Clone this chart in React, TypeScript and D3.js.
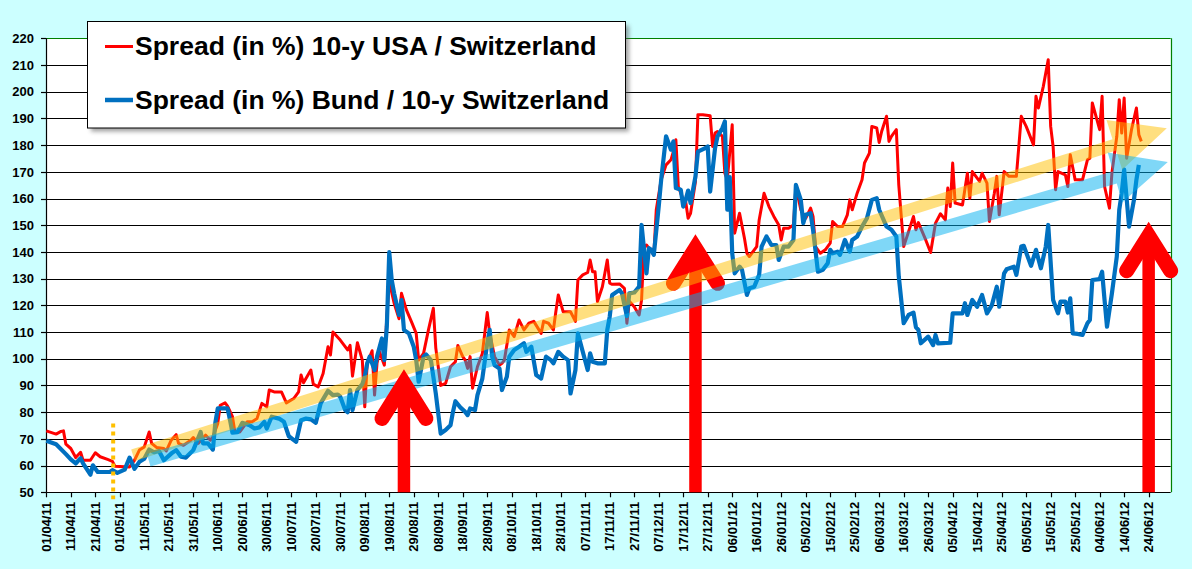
import * as d3 from "d3"

const WIDTH = 1192
const HEIGHT = 569
const FONT = "'Liberation Sans', Arial, sans-serif"

// x axis: one label every 10 days
const tickLabels = [
  "01/04/11", "11/04/11", "21/04/11", "01/05/11", "11/05/11", "21/05/11", "31/05/11", "10/06/11",
  "20/06/11", "30/06/11", "10/07/11", "20/07/11", "30/07/11", "09/08/11", "19/08/11", "29/08/11",
  "08/09/11", "18/09/11", "28/09/11", "08/10/11", "18/10/11", "28/10/11", "07/11/11", "17/11/11",
  "27/11/11", "07/12/11", "17/12/11", "27/12/11", "06/01/12", "16/01/12", "26/01/12", "05/02/12",
  "15/02/12", "25/02/12", "06/03/12", "16/03/12", "26/03/12", "05/04/12", "15/04/12", "25/04/12",
  "05/05/12", "15/05/12", "25/05/12", "04/06/12", "14/06/12", "24/06/12",
]
const yTicks = [50, 60, 70, 80, 90, 100, 110, 120, 130, 140, 150, 160, 170, 180, 190, 200, 210, 220]

// series: day offsets from 01/04/11 and spread values
const usaDay = [
  0, 4, 6, 7, 8, 10, 12, 14, 15, 18, 20, 22, 25, 27, 28, 34, 36, 38, 40, 42, 43, 45, 48, 49, 51, 53, 54, 56, 59, 60,
  62, 65, 67, 68, 70, 71, 73, 74, 76, 77, 79, 82, 84, 86, 88, 90, 91, 93, 96, 98, 101, 103, 104, 105, 108, 109, 111,
  113, 115, 116, 117, 120, 123, 124, 125, 127, 129, 130, 131, 133, 134, 135, 136, 138, 139, 140, 142, 144, 145, 147,
  149, 151, 152, 154, 156, 158, 159, 161, 163, 165, 167, 168, 170, 171, 172, 173, 174, 176, 178, 180, 181, 183, 185,
  186, 187, 189, 191, 193, 195, 197, 199, 202, 203, 205, 207, 208, 209, 211, 214, 216, 217, 219, 221, 222, 223, 224,
  225, 227, 229, 230, 231, 234, 236, 237, 238, 240, 242, 243, 244, 245, 247, 248, 249, 251, 253, 255, 256, 257, 258,
  259, 260, 261, 262, 263, 265, 266, 268, 271, 272, 273, 274, 276, 277, 278, 280, 281, 282, 283, 285, 286, 287, 288,
  290, 291, 293, 295, 297, 299, 300, 301, 303, 305, 306, 308, 310, 312, 313, 314, 316, 318, 320, 321, 323, 325, 327,
  328, 329, 331, 333, 334, 336, 337, 339, 340, 341, 343, 344, 345, 347, 348, 350, 352, 354, 355, 356, 359, 361, 363,
  365, 367, 368, 369, 370, 371, 374, 376, 377, 378, 381, 382, 384, 385, 387, 388, 389, 391, 393, 396, 398, 400, 403,
  404, 405, 407, 409, 410, 411, 412, 413, 416, 417, 418, 420, 423, 425, 426, 427, 430, 431, 432, 434, 435, 437, 438,
  439, 440, 441, 443, 445, 446, 447,
]
const usaSpread = [
  73, 71.8, 72.8, 73, 68, 66.4, 63, 65, 62, 62, 64.8, 63.3, 62.3, 61.6, 59.8, 59.5, 62, 65.8, 67, 72.6, 68.3, 66.8,
  66.4, 65.5, 69.5, 71.6, 68.3, 67.6, 69.5, 70.5, 68.3, 71.4, 69.5, 70.8, 75.8, 82.6, 83.5, 82.3, 78.3, 72.6, 72.6,
  76.4, 76.4, 77.6, 83.3, 82, 88.3, 87.6, 87.6, 83.5, 85.1, 87.6, 93.9, 91, 95.8, 90.5, 89.5, 94.5, 104.5, 101.4, 110,
  107, 103.3, 105, 93.5, 106, 99.5, 82, 98.3, 103, 86.4, 98.3, 102.6, 97.6, 115.8, 128.9, 120.8, 115, 124.5, 118.3,
  114, 109.5, 99.5, 102, 110.8, 118.9, 104, 90, 90.8, 97, 98.9, 105, 100.8, 99.5, 96.4, 100.8, 89, 97, 102, 117.3,
  109.5, 100.8, 97.6, 98.3, 99.5, 110.8, 108.3, 114.5, 110.8, 113.3, 114, 109.5, 114, 113.3, 110.8, 117.6, 123.9,
  117.6, 117.6, 114, 129.5, 131.4, 132.3, 137, 132.6, 132.6, 121.4, 127, 137, 128.3, 127.9, 128, 126.4, 113.3, 121.5,
  119.5, 116.4, 122, 142, 142.6, 140.1, 138.9, 155.8, 167, 172.6, 174.5, 177.6, 182, 164.5, 162, 159.5, 158.9, 152.6,
  154.5, 166.4, 191.4, 191.4, 191, 179.5, 184.5, 185.1, 183.3, 169.5, 167, 187.6, 147, 150.8, 154.5, 145.1, 139.5,
  138.3, 139.5, 142, 152, 162, 157, 153.3, 150.1, 144.5, 148.9, 148.9, 150.1, 164.5, 155.8, 152.6, 156.4, 153.3, 142,
  139.5, 140.8, 143.3, 151.4, 149.5, 149.5, 153.9, 159.5, 155.8, 162, 167, 173.3, 177, 187, 186.4, 181, 185.1, 190.8,
  181.4, 183.3, 185.8, 165, 142, 147.6, 153.3, 148.3, 151, 144.5, 139.8, 150.8, 154.3, 152, 163.9, 157, 173.3, 158.3,
  157.6, 169.5, 160.1, 170.1, 166.4, 169.5, 165.8, 151.4, 162, 168.3, 153.9, 170.1, 168.3, 168.3, 190.8, 187, 180.1,
  198.3, 193.9, 202, 212, 187, 179.5, 163.3, 170.1, 168.9, 164.5, 176.4, 167, 167, 174.5, 175.1, 195.8, 185.8, 198.3,
  164.5, 156.4, 169.5, 183.3, 197, 184.5, 197.6, 175.1, 185.8, 193.9, 183.9, 181.4,
]

const bundDay = [
  0, 4, 8, 10, 12, 14, 15, 18, 19, 21, 26, 27, 29, 32, 34, 36, 38, 40, 42, 44, 46, 48, 51, 53, 55, 57, 60, 63, 64, 66,
  68, 69, 70, 74, 75, 76, 78, 80, 83, 85, 87, 89, 90, 92, 95, 97, 99, 102, 104, 106, 108, 110, 112, 115, 117, 119, 120,
  122, 123, 124, 125, 127, 129, 130, 131, 132, 134, 135, 137, 138, 139, 140, 141, 142, 144, 145, 146, 148, 150, 151,
  152, 154, 155, 157, 159, 160, 161, 163, 165, 166, 167, 169, 171, 172, 173, 175, 176, 178, 180, 181, 182, 183, 185,
  186, 188, 189, 191, 193, 195, 196, 198, 200, 202, 204, 206, 207, 209, 211, 213, 214, 216, 217, 219, 221, 222, 223,
  225, 228, 229, 230, 231, 234, 235, 237, 238, 240, 242, 243, 245, 246, 247, 248, 250, 251, 253, 255, 256, 257, 259,
  260, 261, 262, 263, 265, 266, 269, 270, 271, 273, 274, 276, 277, 278, 279, 280, 281, 283, 284, 286, 287, 289, 291,
  292, 294, 296, 298, 299, 301, 303, 305, 306, 308, 309, 310, 312, 313, 315, 317, 319, 320, 321, 323, 324, 326, 328,
  329, 331, 333, 335, 337, 339, 340, 343, 345, 347, 348, 350, 352, 354, 355, 356, 357, 360, 362, 363, 364, 369, 370,
  374, 375, 376, 378, 380, 382, 384, 386, 388, 389, 391, 392, 395, 396, 398, 399, 402, 404, 406, 408, 409, 411, 413,
  414, 416, 417, 418, 419, 421, 423, 425, 426, 427, 430, 431, 432, 433, 435, 437, 438, 439, 440, 442, 444, 445, 446,
]
const bundSpread = [
  69.3, 68, 64.3, 62.3, 60.8, 62.8, 60.8, 56.6, 60.1, 57.6, 57.6, 58.3, 57.3, 58.5, 63, 58.8, 61.4, 62.6, 66, 65,
  65.5, 62, 64.5, 65.8, 63.3, 63, 65.8, 72.6, 68.3, 68.3, 66, 76, 81.4, 81.4, 77, 72.3, 72.5, 76, 75.1, 73.9, 74.3,
  76.4, 73.9, 78.3, 77.6, 76.4, 71, 68.9, 77, 77.6, 77.3, 76, 83.3, 88, 86.4, 86.6, 85.8, 80.8, 80, 88.3, 80.8, 88.3,
  90.5, 93.3, 98.3, 100.8, 95.8, 100.8, 107.6, 99.5, 112, 139.9, 129.5, 124.5, 116.4, 122, 110.8, 109.5, 104.5, 99.5,
  91.4, 100.8, 101.6, 99.5, 87, 79.5, 72, 73.3, 75.1, 80.1, 84.1, 81.8, 80.1, 78.9, 81.4, 80.8, 86.4, 92.6, 105.8,
  110.8, 100.8, 97.6, 96.4, 88.3, 93.3, 100.8, 103.3, 104.5, 105.8, 102.6, 104.5, 93.9, 92.6, 100.8, 99.5, 98.3,
  102.6, 100.8, 99.5, 87, 95.8, 109.5, 102.6, 95.8, 102, 98.9, 98.3, 98.3, 110.8, 115.8, 123.9, 125.8, 124.5, 116,
  124.5, 124.8, 127, 150.1, 132, 141.4, 140.8, 138.9, 157, 167, 183.3, 178.3, 181.4, 163.9, 163.3, 157, 159.5, 163,
  158.3, 168.3, 177.6, 178.9, 179.5, 162.6, 178.9, 183.3, 186.4, 188.9, 155.8, 168, 139.5, 132, 134.5, 133.3, 123.9,
  126.4, 127, 131.4, 142, 145.8, 142.6, 142.6, 137, 142, 142, 144.5, 165.1, 159.5, 150.8, 153.9, 154.5, 148.3, 132.6,
  133.3, 135.8, 140.8, 139.5, 140.1, 138.9, 144.5, 140.1, 144.5, 145.8, 149.5, 152.6, 159.5, 160.1, 155.8, 149.5,
  148.3, 145.8, 130.8, 113.3, 116.4, 117.3, 111.8, 110.8, 105.8, 108.3, 105.1, 108.9, 105.8, 106, 117, 117, 120.8,
  116.4, 122, 119.5, 123.9, 117, 120.1, 127, 119.5, 132, 133.5, 134.5, 131.4, 142, 142.3, 134.8, 140.8, 133.9, 142,
  150.1, 122, 117, 121.4, 121.4, 117.3, 122.6, 109.5, 109.3, 108.9, 113.3, 114.5, 129.5, 129.8, 132.6, 122, 112,
  124.5, 138.3, 155.8, 162, 170.8, 149.5, 159.5, 167, 172.6,
]

// hand-drawn annotations, in data units (day offset, spread)
const trendUsa = { fromDay: 35.4, fromValue: 63.9, toDay: 457.4, toValue: 186.3 }
const trendBund = { fromDay: 41.8, fromValue: 62, toDay: 457.8, toValue: 173.7 }
const arrowDay = [146, 265, 450]
const arrowTip = [96, 146.6, 151.3]
const markerDay = 27.3
const markerTop = 75.8

const legendItems = [
  { label: "Spread (in %) 10-y USA / Switzerland", color: "#FF0000", width: 3 },
  { label: "Spread (in %) Bund / 10-y Switzerland", color: "#0070C0", width: 4.5 },
]

const parseTick = d3.utcParse("%d/%m/%y")
const start = Date.UTC(2011, 3, 1)
const dayToDate = (d: number) => new Date(start + d * 86400000)

const margin = { left: 46.3, right: 1170.7, top: 38.3, bottom: 492.3 }

const x = d3.scaleUtc().domain([dayToDate(0), dayToDate(459)]).range([margin.left, margin.right])
const y = d3.scaleLinear().domain([50, 220]).range([margin.bottom, margin.top])

const line = d3
  .line<[number, number]>()
  .x((p) => x(dayToDate(p[0])))
  .y((p) => y(p[1]))

function bandPath(t: { fromDay: number; fromValue: number; toDay: number; toValue: number }, half: number) {
  const x0 = x(dayToDate(t.fromDay))
  const y0 = y(t.fromValue)
  const x1 = x(dayToDate(t.toDay))
  const y1 = y(t.toValue)
  const len = Math.hypot(x1 - x0, y1 - y0)
  const ux = (x1 - x0) / len
  const uy = (y1 - y0) / len
  const nx = -uy
  const ny = ux
  const headLen = 55
  const headHalf = 26
  const bx = x1 - ux * headLen
  const by = y1 - uy * headLen
  const pts = [
    [x0 + nx * half, y0 + ny * half],
    [bx + nx * half, by + ny * half],
    [bx + nx * headHalf, by + ny * headHalf],
    [x1, y1],
    [bx - nx * headHalf, by - ny * headHalf],
    [bx - nx * half, by - ny * half],
    [x0 - nx * half, y0 - ny * half],
  ]
  return "M" + pts.map((p) => p[0].toFixed(1) + "," + p[1].toFixed(1)).join("L") + "Z"
}

function RedArrow({ day, tip }: { day: number; tip: number }) {
  const cx = x(dayToDate(day))
  const vy = y(tip) + 14
  return (
    <g>
      <line x1={cx} x2={cx} y1={vy} y2={margin.bottom} stroke="#FF0000" strokeWidth={12.5} />
      <path
        d={`M${cx - 22},${vy + 35}L${cx},${vy}L${cx + 22},${vy + 35}`}
        fill="none"
        stroke="#FF0000"
        strokeWidth={15}
        strokeLinecap="round"
        strokeLinejoin="miter"
      />
    </g>
  )
}

export default function App() {
  const usaPoints = usaDay.map((d, i) => [d, usaSpread[i]] as [number, number])
  const bundPoints = bundDay.map((d, i) => [d, bundSpread[i]] as [number, number])
  const ticks = tickLabels.map((t) => ({ label: t, x: x(parseTick(t) as Date) }))
  const crisp = (v: number) => Math.round(v) + 0.5

  return (
    <svg
      width={WIDTH}
      height={HEIGHT}
      style={{ position: "absolute", left: 0, top: 0, fontFamily: FONT }}
    >
      <defs>
        <filter id="shadow" x="-10%" y="-10%" width="130%" height="140%">
          <feGaussianBlur stdDeviation="2" />
        </filter>
      </defs>
      <rect width={WIDTH} height={HEIGHT} fill="#CCFFFF" />
      <rect
        x={margin.left}
        y={margin.top}
        width={margin.right - margin.left}
        height={margin.bottom - margin.top}
        fill="#FFFFFF"
      />

      {/* gridlines */}
      {yTicks
        .filter((v) => v > 50 && v < 220)
        .map((v) => (
          <line key={v} x1={margin.left} x2={margin.right} y1={crisp(y(v))} y2={crisp(y(v))} stroke="#000" strokeWidth={1.2} />
        ))}
      <line x1={margin.left} x2={margin.right} y1={crisp(y(220))} y2={crisp(y(220))} stroke="#008000" strokeWidth={1.2} />
      <line x1={crisp(margin.right)} x2={crisp(margin.right)} y1={margin.top} y2={margin.bottom} stroke="#008000" strokeWidth={1.2} />

      {/* y axis */}
      <line x1={crisp(margin.left)} x2={crisp(margin.left)} y1={margin.top} y2={margin.bottom + 0.5} stroke="#000" strokeWidth={1.2} />
      {yTicks.map((v) => (
        <g key={v}>
          <line x1={41} x2={margin.left} y1={crisp(y(v))} y2={crisp(y(v))} stroke="#000" strokeWidth={1.2} />
          <text x={34} y={y(v)} dy="0.36em" textAnchor="end" fontSize={13} fontWeight="bold" fill="#000">
            {v}
          </text>
        </g>
      ))}

      {/* x axis */}
      <line x1={margin.left} x2={margin.right} y1={crisp(margin.bottom)} y2={crisp(margin.bottom)} stroke="#000" strokeWidth={1.2} />
      {ticks.map((t) => (
        <g key={t.label}>
          <line x1={crisp(t.x)} x2={crisp(t.x)} y1={margin.bottom} y2={margin.bottom + 5} stroke="#000" strokeWidth={1.2} />
          <text
            transform={`translate(${t.x + 4.6},${margin.bottom + 9.5}) rotate(-90)`}
            textAnchor="end"
            fontSize={13}
            fontWeight="bold"
            fill="#000"
          >
            {t.label}
          </text>
        </g>
      ))}

      {/* series */}
      <path d={line(usaPoints) || ""} fill="none" stroke="#FF0000" strokeWidth={3} strokeLinejoin="round" />
      <path d={line(bundPoints) || ""} fill="none" stroke="#0070C0" strokeWidth={4.2} strokeLinejoin="round" />

      {/* start marker */}
      <line
        x1={x(dayToDate(markerDay))}
        x2={x(dayToDate(markerDay))}
        y1={y(markerTop)}
        y2={margin.bottom + 7}
        stroke="#FFC000"
        strokeWidth={4}
        strokeDasharray="4 4"
      />

      {/* middle arrow lies under the trend bands */}
      <RedArrow day={arrowDay[1]} tip={arrowTip[1]} />

      {/* trend bands */}
      <path d={bandPath(trendUsa, 6)} fill="#FFC000" fillOpacity={0.5} />
      <path d={bandPath(trendBund, 6.5)} fill="#00B0F0" fillOpacity={0.5} />

      <RedArrow day={arrowDay[0]} tip={arrowTip[0]} />
      <RedArrow day={arrowDay[2]} tip={arrowTip[2]} />

      {/* legend */}
      <rect x={91} y={25.5} width={538} height={106} fill="#555" opacity={0.55} filter="url(#shadow)" />
      <rect x={87.5} y={21.5} width={538} height={106.5} fill="#FFFFFF" stroke="#000" strokeWidth={1} />
      {legendItems.map((item, i) => (
        <g key={item.label} transform={`translate(0,${i * 53.5})`}>
          <line x1={105} x2={133} y1={46.5} y2={46.5} stroke={item.color} strokeWidth={item.width} />
          <text x={135} y={55} fontSize={26.5} fontWeight="bold" fill="#000">
            {item.label}
          </text>
        </g>
      ))}
    </svg>
  )
}
